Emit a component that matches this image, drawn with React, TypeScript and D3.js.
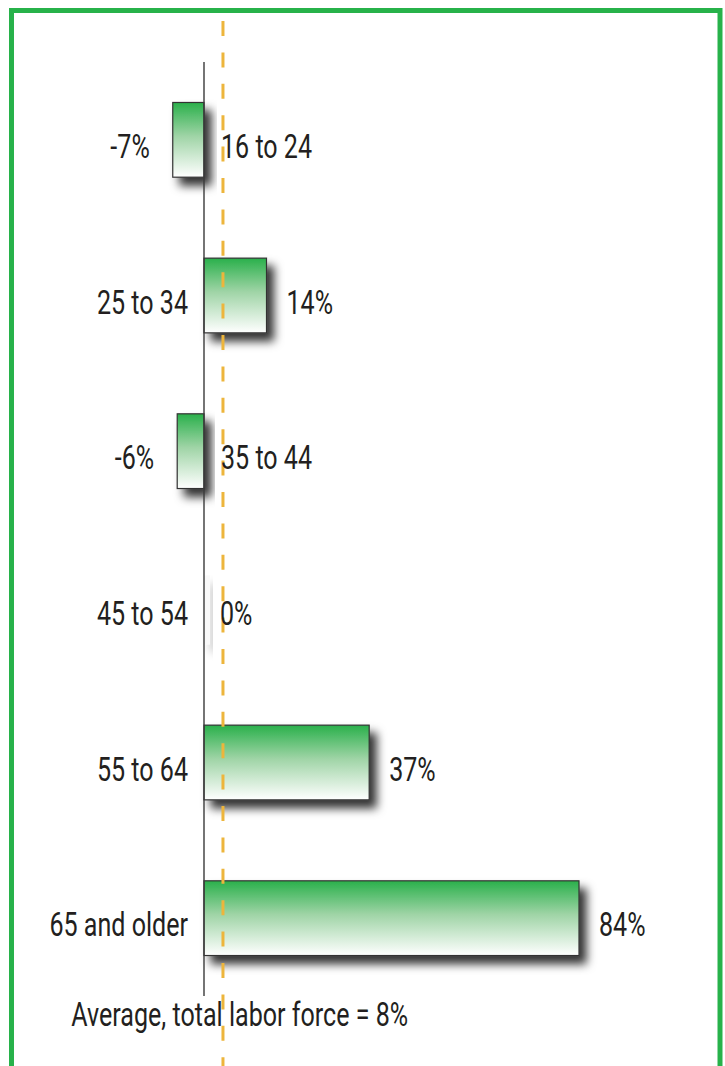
import * as d3 from 'd3';

const categories = ['16 to 24', '25 to 34', '35 to 44', '45 to 54', '55 to 64', '65 and older'];
const changes = [-7, 14, -6, 0, 37, 84];
const averageValue = 8;
// the source draws its average marker a little left of 8% (around 4.25% on the bar scale)
const averageMarkerAt = 4.25;
const averageLabel = `Average, total labor force = ${averageValue}%`;

const WIDTH = 725;
const HEIGHT = 1066;
const FONT = 'Roboto, "DejaVu Sans Condensed", sans-serif';
const FONT_SIZE = 33;
const SQUEEZE = 0.76; // fake a condensed face
const TEXT = '#231f20';
const GREEN = '#27b24a';
const ORANGE = '#edb53c';

function Label({ x, y, anchor, children }: { x: number; y: number; anchor: 'start' | 'end' | 'middle'; children: string }) {
  return (
    <text
      transform={`translate(${x},${y}) scale(${SQUEEZE},1)`}
      textAnchor={anchor}
      fontFamily={FONT}
      fontSize={FONT_SIZE}
      fill={TEXT}
    >
      {children}
    </text>
  );
}

export default function App() {
  const x = d3.scaleLinear().domain([0, 84]).range([204, 579]);
  const y = d3.scaleBand<string>()
    .domain(categories)
    .range([62, 996])
    .paddingInner(0.52)
    .paddingOuter(0.26);

  const x0 = x(0);
  const rows = categories.map((c, i) => ({ cat: c, value: changes[i] }));

  return (
    <svg
      width={WIDTH}
      height={HEIGHT}
      viewBox={`0 0 ${WIDTH} ${HEIGHT}`}
      style={{ position: 'absolute', left: 0, top: 0, background: '#fff' }}
    >
      <defs>
        <linearGradient id="barFill" x1="0" y1="0" x2="0" y2="1">
          <stop offset="0%" stopColor="#2ab04b" />
          <stop offset="45%" stopColor="#9fd4a6" />
          <stop offset="100%" stopColor="#ffffff" />
        </linearGradient>
        <filter id="shadow" x="-30%" y="-30%" width="170%" height="170%">
          <feDropShadow dx="7" dy="8" stdDeviation="5" floodColor="#000" floodOpacity="0.8" />
        </filter>
      </defs>

      {/* frame */}
      <rect x={11.5} y={10.5} width={708.5} height={1100} fill="none" stroke={GREEN} strokeWidth={5} />

      {/* bars */}
      {rows.map(d => {
        const yy = y(d.cat) ?? 0;
        const left = Math.min(x(d.value), x0);
        const w = Math.abs(x(d.value) - x0);
        return w > 0 ? (
          <rect
            key={d.cat}
            x={left}
            y={yy}
            width={w}
            height={y.bandwidth()}
            fill="url(#barFill)"
            stroke="#333"
            strokeWidth={1.2}
            filter="url(#shadow)"
          />
        ) : (
          // zero bar only leaves a faint shadow
          <rect
            key={d.cat}
            x={x0}
            y={yy + 6}
            width={6}
            height={y.bandwidth() - 6}
            fill="#eeeeee"
            opacity={0.35}
            filter="url(#shadow)"
          />
        );
      })}

      {/* axis */}
      <line x1={x0} x2={x0} y1={62} y2={996} stroke="#3a3a3a" strokeWidth={1.4} />

      {/* average marker */}
      <line
        x1={x(averageMarkerAt)}
        x2={x(averageMarkerAt)}
        y1={21}
        y2={HEIGHT}
        stroke={ORANGE}
        strokeWidth={3}
        strokeDasharray="15 16.4"
      />

      {/* labels */}
      {rows.map(d => {
        const cy = (y(d.cat) ?? 0) + y.bandwidth() / 2 + 18;
        const neg = d.value < 0;
        return neg ? (
          <g key={`l-${d.cat}`}>
            <Label x={x(d.value) - 23} y={cy} anchor="end">{`${d.value}%`}</Label>
            <Label x={x0 + 17} y={cy} anchor="start">{d.cat}</Label>
          </g>
        ) : (
          <g key={`l-${d.cat}`}>
            <Label x={x0 - 16} y={cy} anchor="end">{d.cat}</Label>
            <Label x={x(d.value) + (d.value === 0 ? 16 : 20)} y={cy} anchor="start">{`${d.value}%`}</Label>
          </g>
        );
      })}

      <Label x={x(averageValue)} y={1026} anchor="middle">{averageLabel}</Label>
    </svg>
  );
}
